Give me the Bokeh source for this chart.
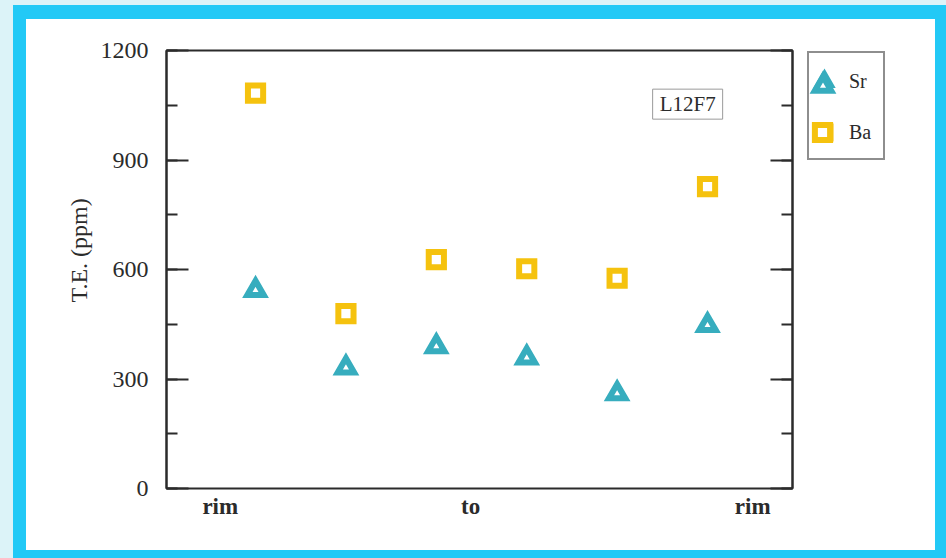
from bokeh.plotting import figure
from bokeh.models import (Range1d, LinearAxis, SingleIntervalTicker, FixedTicker,
                          Legend, LegendItem, Label, Title, CustomLabelingPolicy)
from bokeh.layouts import row, column
from bokeh.embed import file_html
from bokeh.resources import INLINE

# ---- data ----
positions = [1, 2, 3, 4, 5, 6]
sr_values = [543, 331, 389, 358, 260, 447]
ba_values = [1083, 479, 627, 602, 576, 827]
x_tick_positions = [0.61, 3.38, 6.5]
x_tick_labels = ["rim", "to", "rim"]
y_label = "T.E. (ppm)"
sample_name = "L12F7"
sample_pos = (5.78, 1053)
series_names = ["Sr", "Ba"]

SERIF = "Liberation Serif"
TEAL = "#37adbe"
GOLD = "#f5c20e"
INK = "#2b2b2b"
FRAME_BLUE = "#22c9f6"
PAGE_BLUE = "#dcf3f8"

SR_STYLE = dict(marker="triangle", size=16.4, fill_color="white",
                line_color=TEAL, line_width=6, line_join="miter")
BA_STYLE = dict(marker="square", size=15.2, fill_color="white",
                line_color=GOLD, line_width=6, line_join="miter")

# ---------------- main plot ----------------
p = figure(width=771, height=531,
           x_range=Range1d(0.015, 6.94), y_range=Range1d(0, 1200),
           x_axis_type=None, y_axis_type=None,
           output_backend="svg", toolbar_location=None,
           min_border_left=140, min_border_right=5,
           min_border_top=31, min_border_bottom=62)
p.grid.visible = False
p.outline_line_color = INK
p.outline_line_width = 2
p.background_fill_color = "white"
p.border_fill_color = "white"

xax = LinearAxis(ticker=FixedTicker(ticks=x_tick_positions),
                 major_label_overrides={t: l for t, l in zip(x_tick_positions, x_tick_labels)})
xax.axis_line_color = None
xax.major_tick_line_color = None
xax.minor_tick_line_color = None
xax.major_label_text_font = SERIF
xax.major_label_text_font_style = "bold"
xax.major_label_text_font_size = "23px"
xax.major_label_text_color = INK
xax.major_label_standoff = -1
p.add_layout(xax, "below")

def make_yaxis(show_labels):
    ax = LinearAxis(ticker=SingleIntervalTicker(interval=300, num_minor_ticks=2))
    ax.axis_line_color = INK
    ax.axis_line_width = 2
    ax.major_tick_in = 22
    ax.major_tick_out = 0
    ax.minor_tick_in = 11
    ax.minor_tick_out = 0
    ax.major_tick_line_color = INK
    ax.major_tick_line_width = 2
    ax.minor_tick_line_color = INK
    ax.minor_tick_line_width = 2
    if show_labels:
        ax.major_label_text_font = SERIF
        ax.major_label_text_font_size = "24px"
        ax.major_label_text_color = INK
        ax.major_label_standoff = 18
    else:
        ax.major_label_policy = CustomLabelingPolicy(code="""
            const n = indices.size
            for (let i = 0; i < n; i++) indices.unset(i)
            return indices
        """)
        ax.major_label_text_font_size = "0px"
        ax.major_label_standoff = 0
    return ax

p.add_layout(make_yaxis(True), "left")
p.add_layout(make_yaxis(False), "right")

ytitle = Title(text=y_label, align="left", offset=186, standoff=11,
               text_font=SERIF, text_font_style="normal", text_font_size="24px",
               text_color=INK)
p.add_layout(ytitle, "left")

p.scatter(positions, sr_values, **SR_STYLE)
p.scatter(positions, ba_values, **BA_STYLE)

lab = Label(x=sample_pos[0], y=sample_pos[1], text=sample_name,
            text_align="center", text_baseline="middle",
            text_font=SERIF, text_font_size="21px", text_color=INK,
            border_line_color="#9a9a9a", border_line_width=1,
            background_fill_color="white",
            padding=dict(left=7, right=7, top=3, bottom=3))
p.add_layout(lab)

# ---------------- legend panel (frame aligned with the main plot's frame) ----------------
pl = figure(width=138, height=531, x_range=Range1d(0, 1), y_range=Range1d(0, 1),
            x_axis_type=None, y_axis_type=None,
            output_backend="svg", toolbar_location=None, min_border=0)
pl.grid.visible = False
pl.outline_line_color = None
pl.background_fill_color = "white"
pl.border_fill_color = "white"
# same series, styled identically; they fall outside this panel's ranges so only
# their legend samples are visible
leg_sr = pl.scatter(positions, sr_values, **SR_STYLE)
leg_ba = pl.scatter(positions, ba_values, **BA_STYLE)

legend = Legend(items=[LegendItem(label=series_names[0], renderers=[leg_sr]),
                       LegendItem(label=series_names[1], renderers=[leg_ba])],
                location=(10, 328), margin=0,
                padding=dict(left=0, right=10, top=13, bottom=11), spacing=21,
                glyph_width=30, glyph_height=30, label_height=30,
                label_width=24, label_standoff=10,
                label_text_font=SERIF, label_text_font_size="20px",
                label_text_color=INK,
                border_line_color="#1e1e1e", border_line_width=2,
                background_fill_color="white")
pl.add_layout(legend, "center")

# full-size markers over the legend's small ones
big_sr = Legend(items=[LegendItem(label=" ", renderers=[leg_sr])],
                location=(5, 382), margin=0, padding=0,
                glyph_width=41, glyph_height=41, label_height=41, label_width=1,
                label_standoff=0, border_line_color=None, background_fill_alpha=0)
big_ba = Legend(items=[LegendItem(label=" ", renderers=[leg_ba])],
                location=(6, 337), margin=0, padding=0,
                glyph_width=38, glyph_height=38, label_height=38, label_width=1,
                label_standoff=0, border_line_color=None, background_fill_alpha=0)
pl.add_layout(big_sr, "center")
pl.add_layout(big_ba, "center")

inner = row(p, pl, styles={"background-color": "white"})
inner.margin = (14, 11, 8, 13)
layout = column(inner, styles={"background-color": FRAME_BLUE})

html = file_html(layout, INLINE)
css = ("<style>html, body {margin:0 !important; background:%s !important; "
       "overflow:hidden !important;} body {padding:5px 0 0 13px !important;}</style>" % PAGE_BLUE)
html = html.replace("</head>", css + "</head>", 1)
open("out.html", "w").write(html)
